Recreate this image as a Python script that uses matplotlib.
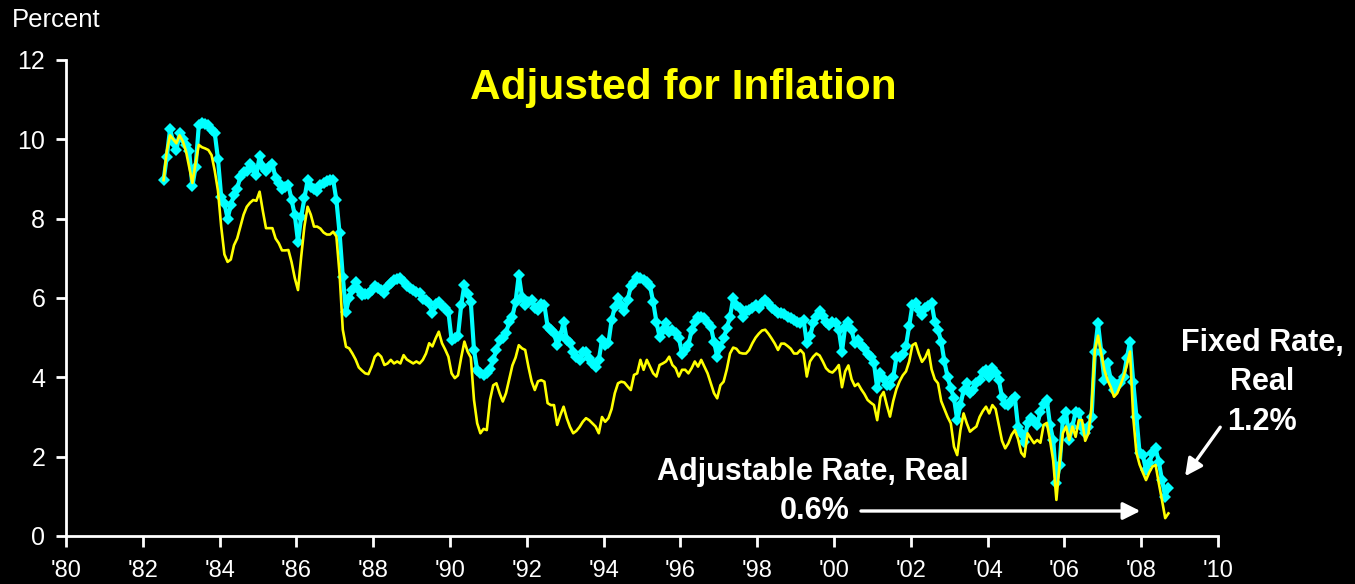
import numpy as np
import matplotlib.pyplot as plt

plt.rcParams['font.family'] = ['Liberation Sans', 'DejaVu Sans']

# real 30-yr fixed mortgage rate, monthly from Jul 1982 (percent)
fixed_real = [
    8.97, 9.56, 10.25, 9.94, 9.73, 10.15,                                  # 1982 Jul-Dec
    10.02, 9.86, 9.7, 8.82, 9.3, 10.35, 10.4, 10.38, 10.35, 10.23, 10.15, 9.5,   # 1983
    8.55, 8.39, 8.0, 8.34, 8.6, 8.76, 9.06, 9.18, 9.2, 9.39, 9.28, 9.1,     # 1984
    9.58, 9.31, 9.2, 9.3, 9.39, 9.02, 8.9, 8.76, 8.8, 8.85, 8.47, 8.09,     # 1985
    7.42, 8.05, 8.51, 8.97, 8.8, 8.76, 8.7, 8.85, 8.9, 8.95, 8.97, 8.97,    # 1986
    8.47, 7.63, 6.54, 5.65, 6.0, 6.2, 6.41, 6.2, 6.08, 6.1, 6.1, 6.2,       # 1987
    6.3, 6.25, 6.2, 6.12, 6.3, 6.37, 6.45, 6.48, 6.5, 6.41, 6.3, 6.24,      # 1988
    6.2, 6.15, 6.12, 5.98, 5.95, 5.87, 5.61, 5.85, 5.9, 5.8, 5.75, 5.65,    # 1989
    4.94, 5.0, 5.05, 5.82, 6.33, 6.1, 5.9, 4.69, 4.18, 4.1, 4.06, 4.1,      # 1990
    4.2, 4.44, 4.69, 4.94, 5.0, 5.11, 5.4, 5.53, 5.91, 6.58, 6.03, 5.82,    # 1991
    5.91, 5.95, 5.74, 5.7, 5.86, 5.82, 5.28, 5.2, 5.11, 4.81, 5.03, 5.4,    # 1992
    4.94, 4.86, 4.65, 4.52, 4.44, 4.65, 4.65, 4.48, 4.35, 4.27, 4.44, 4.94, # 1993
    4.81, 4.86, 5.44, 5.78, 5.99, 5.82, 5.66, 5.95, 6.29, 6.41, 6.54, 6.5,  # 1994
    6.45, 6.4, 6.3, 5.9, 5.4, 5.02, 5.19, 5.36, 5.15, 5.2, 5.11, 5.0,       # 1995
    4.6, 4.7, 4.81, 5.19, 5.4, 5.53, 5.53, 5.49, 5.36, 5.28, 4.9, 4.52,     # 1996
    4.77, 4.98, 5.24, 5.53, 5.99, 5.82, 5.74, 5.53, 5.66, 5.7, 5.75, 5.82,  # 1997
    5.74, 5.87, 5.95, 5.87, 5.74, 5.7, 5.61, 5.63, 5.6, 5.53, 5.49, 5.45,   # 1998
    5.4, 5.36, 5.45, 4.86, 5.03, 5.36, 5.53, 5.66, 5.55, 5.4, 5.32, 5.4,    # 1999
    5.36, 5.19, 4.65, 5.28, 5.4, 5.19, 4.86, 4.94, 4.82, 4.73, 4.6, 4.52,   # 2000
    4.35, 3.72, 4.1, 3.95, 3.8, 3.8, 4.0, 4.5, 4.5, 4.6, 4.8, 5.3,          # 2001
    5.82, 5.87, 5.7, 5.57, 5.74, 5.8, 5.87, 5.4, 5.2, 4.9, 4.4, 4.0,        # 2002
    3.72, 3.47, 2.92, 3.3, 3.68, 3.85, 3.6, 3.68, 3.85, 3.93, 4.14, 4.18,   # 2003
    4.02, 4.23, 4.1, 3.93, 3.51, 3.34, 3.3, 3.43, 3.51, 2.76, 2.59, 2.38,   # 2004
    2.85, 2.97, 2.89, 2.8, 3.13, 3.34, 3.43, 2.8, 2.42, 1.33, 1.79, 2.92,   # 2005
    3.13, 2.42, 2.76, 3.13, 3.09, 2.76, 2.59, 2.76, 3.0, 4.65, 5.36, 4.65,  # 2006
    3.93, 4.35, 3.93, 3.68, 3.8, 3.85, 4.02, 4.48, 4.9, 3.89, 3.01, 2.08,   # 2007
    2.04, 1.66, 1.83, 2.08, 2.21, 1.87, 1.41, 0.99, 1.2,                    # 2008 Jan-Sep
]

# real 1-yr adjustable rate, same months
arm_real = [
    8.97, 9.7, 10.1, 10.0, 9.9, 10.1,                                       # 1982
    9.95, 9.7, 9.3, 8.9, 9.4, 9.86, 9.8, 9.77, 9.73, 9.6, 9.2, 8.7,         # 1983
    7.8, 7.1, 6.91, 6.97, 7.33, 7.5, 7.8, 8.1, 8.3, 8.4, 8.47, 8.45,        # 1984
    8.68, 8.2, 7.76, 7.76, 7.76, 7.5, 7.38, 7.2, 7.2, 7.21, 6.9, 6.5,       # 1985
    6.2, 7.04, 7.8, 8.3, 8.1, 7.8, 7.8, 7.75, 7.65, 7.6, 7.6, 7.67,         # 1986
    7.55, 6.6, 5.2, 4.77, 4.73, 4.6, 4.45, 4.25, 4.17, 4.1, 4.08, 4.27,     # 1987
    4.52, 4.6, 4.52, 4.31, 4.35, 4.44, 4.35, 4.4, 4.35, 4.56, 4.45, 4.4,    # 1988
    4.35, 4.4, 4.35, 4.44, 4.6, 4.86, 4.78, 4.98, 5.15, 4.86, 4.7, 4.52,    # 1989
    4.1, 3.98, 4.05, 4.5, 4.9, 4.65, 4.5, 3.43, 2.84, 2.59, 2.7, 2.67,      # 1990
    3.43, 3.8, 3.85, 3.6, 3.39, 3.6, 3.95, 4.3, 4.5, 4.81, 4.73, 4.69,      # 1991
    4.27, 3.9, 3.68, 3.9, 3.93, 3.89, 3.35, 3.3, 3.3, 2.8, 3.05, 3.26,      # 1992
    2.97, 2.75, 2.59, 2.65, 2.75, 2.88, 2.97, 2.92, 2.84, 2.76, 2.59, 3.0,  # 1993
    2.88, 2.97, 3.2, 3.6, 3.85, 3.89, 3.87, 3.77, 3.68, 4.06, 4.1, 4.44,    # 1994
    4.19, 4.44, 4.27, 4.1, 4.02, 4.31, 4.35, 4.4, 4.52, 4.31, 4.23, 4.02,   # 1995
    4.19, 4.19, 4.1, 4.23, 4.4, 4.27, 4.44, 4.27, 4.1, 3.85, 3.6, 3.47,     # 1996
    3.8, 3.89, 4.2, 4.6, 4.75, 4.72, 4.62, 4.6, 4.6, 4.69, 4.86, 5.0,       # 1997
    5.1, 5.18, 5.2, 5.1, 4.98, 4.85, 4.69, 4.85, 4.85, 4.79, 4.72, 4.6,     # 1998
    4.6, 4.69, 4.6, 4.02, 4.4, 4.52, 4.6, 4.55, 4.4, 4.23, 4.15, 4.12,      # 1999
    4.2, 4.31, 3.75, 4.15, 4.3, 3.95, 3.78, 3.84, 3.7, 3.58, 3.43, 3.36,    # 2000
    3.3, 2.92, 3.5, 3.63, 3.3, 3.01, 3.4, 3.7, 3.9, 4.05, 4.15, 4.4,        # 2001
    4.81, 4.86, 4.6, 4.39, 4.5, 4.69, 4.2, 3.95, 3.85, 3.4, 3.2, 3.0,       # 2002
    2.84, 2.25, 2.04, 2.67, 3.09, 2.84, 2.63, 2.7, 2.76, 3.0, 3.15, 3.26,   # 2003
    3.09, 3.3, 3.2, 2.8, 2.4, 2.21, 2.34, 2.55, 2.67, 2.45, 2.1, 2.0,       # 2004
    2.59, 2.46, 2.34, 2.42, 2.35, 2.8, 2.85, 2.42, 1.9, 0.91, 1.83, 2.59,   # 2005
    2.76, 2.42, 2.76, 2.5, 2.92, 2.92, 2.4, 2.59, 3.26, 4.69, 5.05, 4.6,    # 2006
    4.18, 3.93, 3.75, 3.51, 3.6, 3.8, 4.02, 4.3, 4.65, 3.0, 2.1, 1.8,       # 2007
    1.6, 1.41, 1.6, 1.75, 1.79, 1.33, 0.9, 0.45, 0.57,                      # 2008
]

tick_years = list(range(1980, 2011, 2))
tick_labels = ["'" + str(y)[2:] for y in tick_years]

# month positions: mid-month starting Jul 1982
x = 1982 + (np.arange(len(fixed_real)) + 6.5) / 12

fig = plt.figure(figsize=(13.55, 5.84), dpi=100, facecolor='black')
ax = fig.add_axes([0.0487, 0.0822, 0.8502, 0.8151], facecolor='black')

ax.plot(x, fixed_real, color='#00FFFF', lw=3, marker='D', ms=6.5,
        markeredgewidth=0, zorder=2)
ax.plot(x, arm_real, color='#FFFF00', lw=1.9, zorder=3)

ax.set_xlim(1980, 2010)
ax.set_ylim(0, 12)
ax.set_xticks(tick_years)
ax.set_xticklabels(tick_labels)
ax.set_yticks(range(0, 13, 2))

for s in ['top', 'right']:
    ax.spines[s].set_visible(False)
for s in ['left', 'bottom']:
    ax.spines[s].set_color('white')
    ax.spines[s].set_linewidth(2)
ax.tick_params(axis='both', colors='white', width=2)
ax.tick_params(axis='x', length=8, pad=9, labelsize=17)
ax.tick_params(axis='y', length=7, pad=8, labelsize=18)

fig.text(0.009, 0.965, 'Percent', color='white', fontsize=18.5, va='center')

ax.text(1996.07, 11.29, 'Adjusted for Inflation', color='#FFFF00',
        fontsize=30.5, fontweight='bold', ha='center', va='center')

# fixed rate label + arrow
ax.text(2011.15, 3.87, 'Fixed Rate,\nReal\n1.2%', color='white', fontsize=22,
        fontweight='bold', ha='center', va='center', linespacing=1.4,
        clip_on=False)
ax.annotate('', xy=(2009.1, 1.45), xytext=(2010.1, 2.8),
            arrowprops=dict(arrowstyle='-|>', color='white', lw=2.4,
                            mutation_scale=26), annotation_clip=False)

# adjustable rate label + arrow
ax.text(1999.45, 1.61, 'Adjustable Rate, Real', color='white', fontsize=22,
        fontweight='bold', ha='center', va='center')
ax.text(1999.5, 0.63, '0.6%', color='white', fontsize=22,
        fontweight='bold', ha='center', va='center')
ax.annotate('', xy=(2008.05, 0.63), xytext=(2000.63, 0.63),
            arrowprops=dict(arrowstyle='-|>', color='white', lw=2.4,
                            mutation_scale=26))

fig.savefig('out.png', dpi=100, facecolor='black')
